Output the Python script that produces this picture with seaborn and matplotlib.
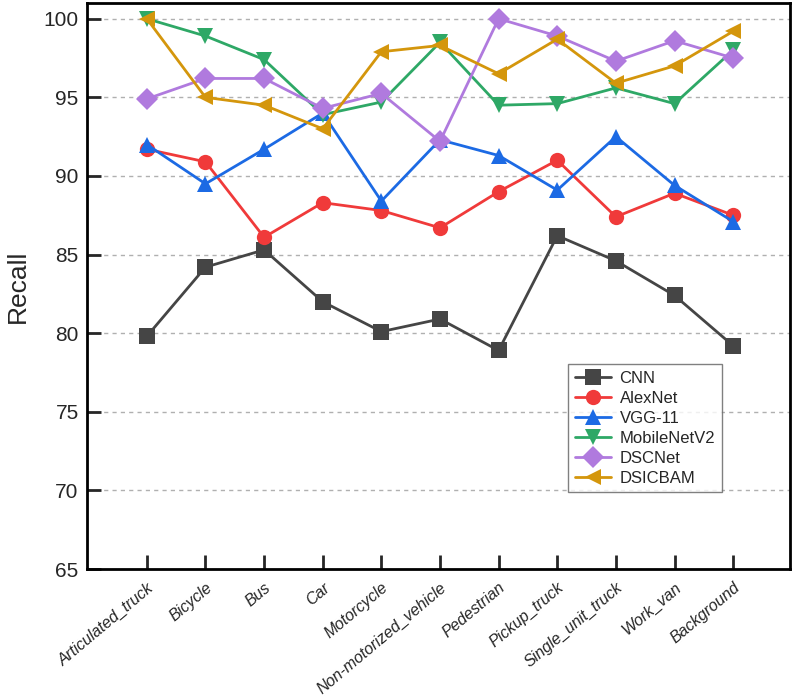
import matplotlib
matplotlib.use("Agg")
import matplotlib.pyplot as plt
import seaborn as sns
import pandas as pd

categories = ["Articulated_truck", "Bicycle", "Bus", "Car", "Motorcycle",
              "Non-motorized_vehicle", "Pedestrian", "Pickup_truck",
              "Single_unit_truck", "Work_van", "Background"]

cnn = [79.8, 84.2, 85.3, 82.0, 80.1, 80.9, 78.9, 86.2, 84.6, 82.4, 79.2]
alexnet = [91.7, 90.9, 86.1, 88.3, 87.8, 86.7, 89.0, 91.0, 87.4, 88.9, 87.5]
vgg11 = [92.0, 89.5, 91.7, 94.0, 88.4, 92.3, 91.3, 89.1, 92.5, 89.4, 87.1]
mobilenetv2 = [100.0, 98.9, 97.4, 93.9, 94.7, 98.5, 94.5, 94.6, 95.6, 94.6, 98.0]
dscnet = [94.9, 96.2, 96.2, 94.3, 95.25, 92.2, 100.0, 98.9, 97.3, 98.6, 97.5]
dsicbam = [100.0, 95.0, 94.5, 93.0, 97.9, 98.3, 96.5, 98.7, 95.9, 97.0, 99.2]

models = ["CNN", "AlexNet", "VGG-11", "MobileNetV2", "DSCNet", "DSICBAM"]
series = [cnn, alexnet, vgg11, mobilenetv2, dscnet, dsicbam]
colors = ["#454545", "#f03a3a", "#1c6ae4", "#2ea866", "#b07ade", "#d4960c"]
markers = ["s", "o", "^", "v", "D", "<"]

rows = []
for name, vals in zip(models, series):
    for i, v in enumerate(vals):
        rows.append({"idx": i, "Recall": v, "Model": name})
df = pd.DataFrame(rows)

sns.set_style("white")
plt.rcParams["font.family"] = ["Liberation Sans", "DejaVu Sans"]

fig = plt.figure(figsize=(7.94, 6.97), dpi=100)
ax = fig.add_axes([0.1096, 0.1836, 0.8854, 0.8121])

ax.yaxis.grid(True, linestyle=(0, (3, 3)), color="#b0b0b0", linewidth=1)
ax.set_axisbelow(True)

sns.lineplot(data=df, x="idx", y="Recall", hue="Model", style="Model",
             hue_order=models, style_order=models,
             palette=dict(zip(models, colors)),
             markers=dict(zip(models, markers)), dashes=False,
             markersize=11, markeredgewidth=0, linewidth=2, ax=ax)

ax.set_xlim(-1.02, 10.97)
ax.set_ylim(65, 101)
ax.set_yticks([65, 70, 75, 80, 85, 90, 95, 100])
ax.set_xticks(range(len(categories)))
ax.set_xticklabels(categories, rotation=40, ha="right", rotation_mode="anchor",
                   fontstyle="italic", fontsize=11.5)
ax.tick_params(axis="y", left=True, labelsize=15, direction="in", length=10,
               width=2, pad=6)
ax.tick_params(axis="x", bottom=True, direction="in", length=10, width=2, pad=8)
ax.set_xlabel("")
ax.set_ylabel("Recall", fontsize=19, labelpad=10)
for s in ax.spines.values():
    s.set_linewidth(2)
    s.set_color("black")

leg = ax.legend(loc="upper left", bbox_to_anchor=(0.684, 0.362), fontsize=12,
                frameon=True, fancybox=False, edgecolor="#606060",
                handlelength=2.2, borderpad=0.4, labelspacing=0.3,
                handletextpad=0.5, borderaxespad=0)
leg.get_frame().set_linewidth(1)
leg.set_zorder(10)

fig.savefig("out.png", dpi=100)
